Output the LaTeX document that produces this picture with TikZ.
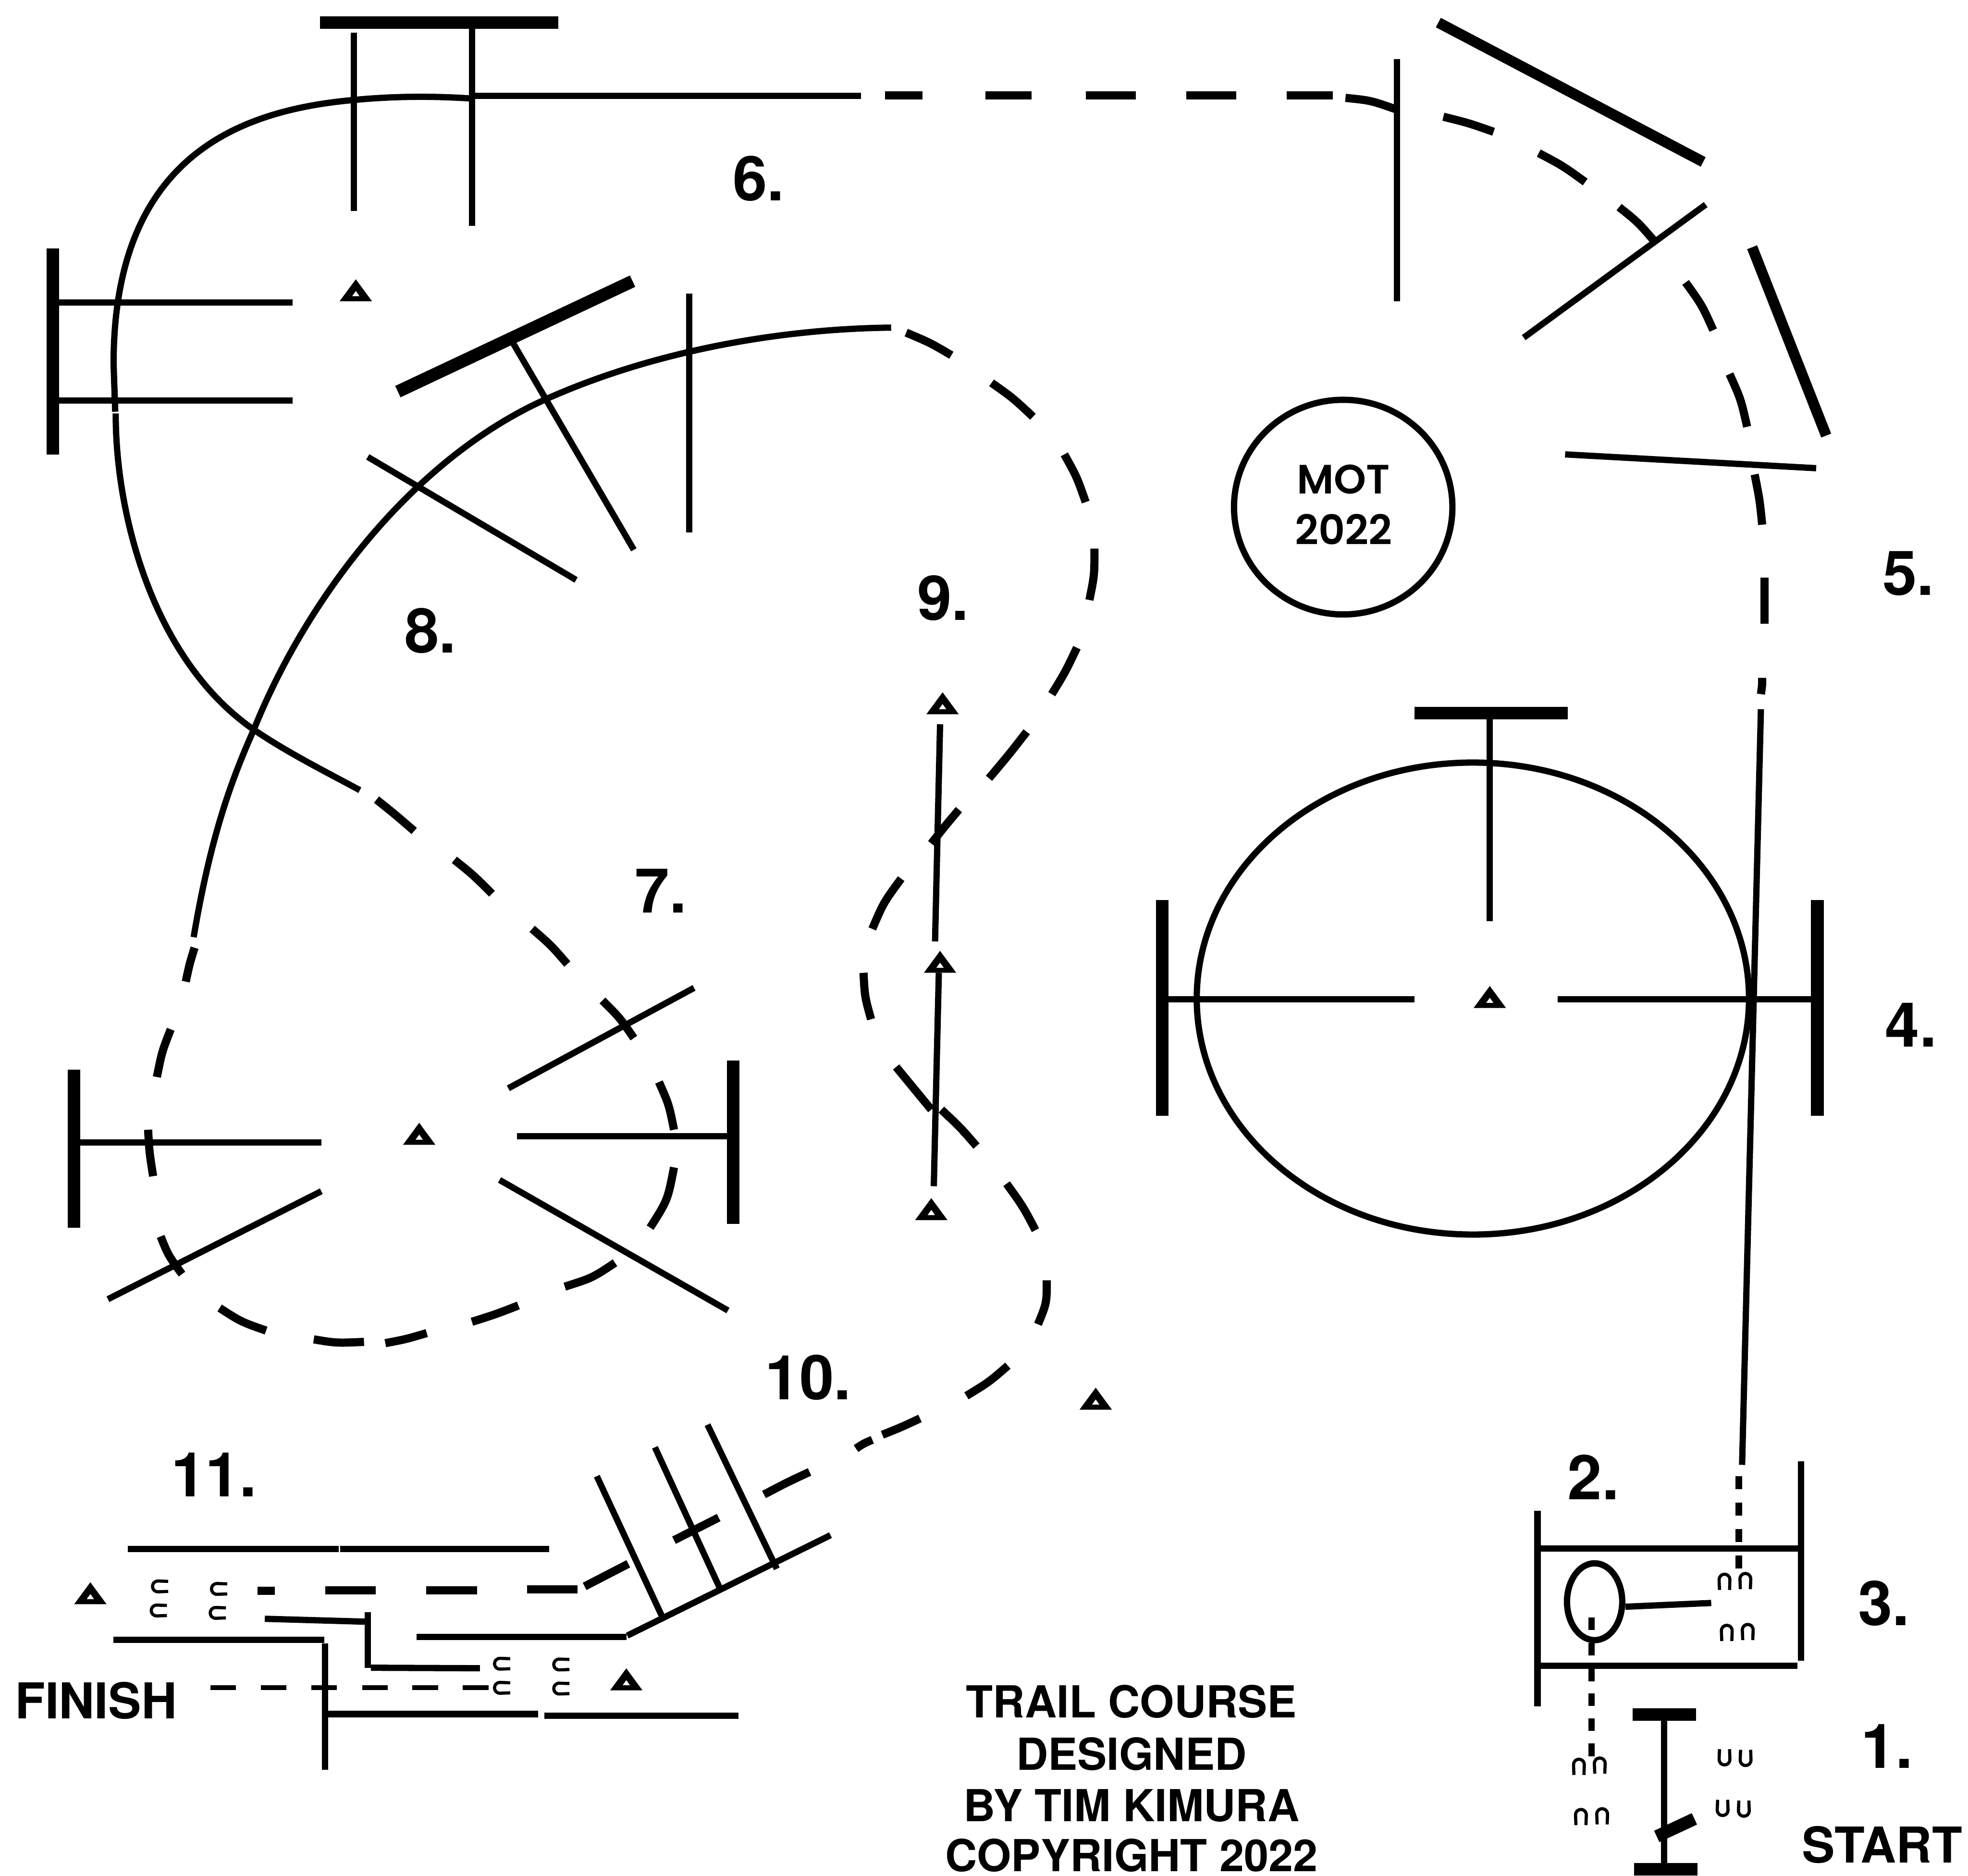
\documentclass[tikz,border=0pt]{standalone}
\usepackage{fontspec}
\setmainfont{TeX Gyre Heros}
\newfontfamily\motfont{Poppins SemiBold}
\usetikzlibrary{arrows.meta,positioning,calc}
\tikzset{
  rail/.style={line width=0.5mm, line cap=butt},
  heavy/.style={line width=1mm, line cap=butt},
  course/.style={line width=0.65mm, line cap=butt},
  courselabel/.style={font=\bfseries\fontsize{14}{14}\selectfont, anchor=base, inner sep=0pt},
  endlabel/.style={font=\bfseries\fontsize{11.2}{11.2}\selectfont, anchor=base, inner sep=0pt},
  textlabel/.style={font=\bfseries\fontsize{10}{10}\selectfont, anchor=base, inner sep=0pt},
  motlabel/.style={font=\motfont\fontsize{9.3}{9.3}\selectfont, anchor=base, inner sep=0pt},
  cone/.pic={\fill[even odd rule] (-12.9,0) -- (0,-17.5) -- (12.9,0) -- cycle (-3,-4) -- (0,-8.2) -- (3,-4) -- cycle;},
  shoe/.pic={\draw[line width=0.25mm] (-4,6) -- (-4.3,-2) .. controls (-4.3,-8) and (4.3,-8) .. (4.3,-2) -- (4,6);}
}
\begin{document}
\begin{tikzpicture}[x=0.1mm, y=-0.1mm]
  \useasboundingbox (0,0) rectangle (1568,1494.4);

  %% 6. top and left rails
  \draw[heavy] (255,18) -- (445,18);
  \draw[rail] (282,26) -- (282,168);
  \draw[rail] (376,22) -- (376,180);
  \draw[heavy] (42,198) -- (42,362);
  \draw[rail] (47,241) -- (233,241);
  \draw[rail] (47,319) -- (233,319);

  %% 8. angled rails
  \draw[heavy] (317,312) -- (504,224);
  \draw[rail] (408,272) -- (505,438);
  \draw[rail] (293,364) -- (459,462);
  \draw[rail] (549,234) -- (549,424);

  %% 5. fan on the right
  \draw[line width=0.85mm] (1146,18) -- (1357,129);
  \draw[line width=0.85mm] (1396,197) -- (1455,347);
  \draw[rail] (1113,47) -- (1113,240);
  \draw[rail] (1214,269) -- (1359,163);
  \draw[rail] (1247,362) -- (1447,373);

  %% mound
  \draw[rail] (1070.2,404) ellipse (87 and 85.5);
  \node[motlabel] (motname) at (1070.5,393.5) {MOT};
  \node[motlabel] (motyear) at (1070.5,434) {2022};

  %% 4. circle with rails
  \draw[rail] (1173.5,795.5) ellipse (220 and 188);
  \draw[heavy] (926,717) -- (926,889);
  \draw[heavy] (1448,717) -- (1448,889);
  \draw[heavy] (1127,568) -- (1249,568);
  \draw[rail] (1187,572) -- (1187,734);
  \draw[rail] (930,796) -- (1127,796);
  \draw[rail] (1241,796) -- (1445,796);

  %% 7. fan on the left
  \draw[heavy] (59,852) -- (59,978);
  \draw[rail] (64,910) -- (256,910);
  \draw[rail] (86,1035) -- (256,949);
  \draw[heavy] (584,845) -- (584,975);
  \draw[rail] (412,905) -- (580,905);
  \draw[rail] (398,940) -- (580,1044);
  \draw[rail] (405,867) -- (553,787);

  %% 9. slalom line
  \draw[rail] (749,577) -- (745,750);
  \draw[rail] (748,775) -- (744,945);

  %% 10. poles
  \draw[rail] (475.5,1176) -- (529,1291);
  \draw[rail] (521.8,1153) -- (574.8,1268);
  \draw[rail] (563.7,1135) -- (618.9,1249.8);
  \draw[rail] (499.8,1303) -- (661.7,1223);

  %% 11. chute
  \draw[rail] (102,1234) -- (270,1234);
  \draw[rail] (271,1234) -- (437.6,1234);
  \draw[rail] (332,1304) -- (499,1304);
  \draw[rail] (211,1289.6) -- (291,1291.9);
  \draw[rail] (293,1284.3) -- (293,1328.6);
  \draw[rail] (295.5,1328.6) -- (382.4,1329);
  \draw[rail] (90.4,1306.5) -- (258.5,1306.5);
  \draw[rail] (259,1309.3) -- (259,1410);
  \draw[rail] (261,1365.5) -- (428.7,1365.5);
  \draw[rail] (433.6,1367) -- (588.4,1367);

  %% 1. start gate
  \draw[heavy] (1300.8,1366) -- (1351.3,1366);
  \draw[rail] (1325.8,1371) -- (1325.8,1485);
  \draw[heavy] (1320,1463) -- (1350,1449);
  \draw[heavy] (1302,1489) -- (1352.5,1489);

  %% 2. and 3. box
  \draw[rail] (1225,1203.5) -- (1225,1359.5);
  \draw[rail] (1435,1164) -- (1435,1323);
  \draw[rail] (1227,1233.5) -- (1435,1233.5);
  \draw[rail] (1227,1327) -- (1432,1327);
  \draw[rail] (1270.5,1276) ellipse (22 and 30.6);
  \draw[rail] (1295,1280) -- (1363.4,1277);

  %% solid parts of the course
  \draw[rail] (686,76.5) -- (376,76.5);
  \draw[rail] (376,78.5) .. controls (345,76.5) and (315,76.5) .. (281.4,79.7)
    .. controls (190,88) and (90.5,125) .. (90.5,290) -- (91.8,328);
  \draw[rail] (92.2,329.4) .. controls (92,410) and (122,525) .. (201.2,580.6)
    .. controls (228,599) and (258,614) .. (286.7,629.5);
  \draw[rail] (154.3,746.6) .. controls (168,665) and (185,620) .. (202,581.8)
    .. controls (245,475) and (330,365) .. (435,318)
    .. controls (520,280) and (620,262) .. (710,261);
  \draw[rail] (1403,565) -- (1388,1167);

  %% dashed parts of the course
  \foreach \ax/\ay/\mx/\my/\bx/\by in {
    705/76/720/76/735/76, 785/76/803/76/822/76, 865/76/885/76/905/76,
    945/76/965/76/985/76, 1025/76/1043/76/1062/76, 1072/78/1092/80/1112/87,
    1150/93/1170/98/1190/105, 1226/122/1245/132/1263/145, 1290/165/1305/177/1318/192,
    1343/225/1356/243/1365/263, 1378/298/1387/318/1392/340, 1398/378/1402/398/1404/418,
    1406/460/1406/478/1406/497, 1404/540/1404/546/1403/553,
    300/637/315/649/330/662, 362/685/377/697/392/712, 424/740/439/753/452/768,
    480/797/494/811/505/827, 525/862/533/880/537/900, 537/930/532/956/518/978,
    490/1006/472/1018/450/1025, 413/1040/395/1047/376/1053, 340/1062/323/1067/307/1070,
    290/1069/268/1070/250/1067, 212/1060/192/1053/175/1042, 145/1015/134/1000/128/985,
    122/937/119/918/118/900, 125/858/129/838/136/820, 148/782/151/768/155/755,
    722/265/741/273/758/283, 790/305/807/317/823/332, 848/362/858/380/865/400,
    872/437/872/458/868/478, 858/516/849/535/838/553, 818/583/804/601/788/620,
    764/645/753/658/742/672, 718/700/704/719/695/740, 688/775/689/794/694/812,
    714/850/728/867/742/884, 750/884/765/898/778/913, 802/943/815/961/825/980,
    834/1020/834/1038/827/1055, 803/1088/788/1101/770/1112, 733/1130/718/1137/703/1143,
    695/1147/688/1150/682/1154, 645/1172.6/627/1181/608.7/1190.6, 572.6/1209/555/1218/537/1227,
    500.6/1245.8/483/1255/465.8/1263.8, 460/1266/440/1266/420/1266, 380/1267/360/1267/339.6/1267,
    299.5/1267/280/1267/259/1267, 219/1267.4/212/1267.4/205/1267.4}
    \draw[course] (\ax,\ay) .. controls (\mx,\my) .. (\bx,\by);

  %% short dashes in the box and in front of the finish
  \foreach \y in {1176,1197,1218,1239}
    \draw[rail] (1385.4,\y) -- (1385.4,\y+10.5);
  \foreach \y in {1288.6,1308.7,1329.5,1349,1369,1389}
    \draw[rail] (1268,\y) -- (1268,\y+10);
  \foreach \x in {167.6,207.8,248,288.5,328.6,368.8}
    \draw[line width=0.37mm] (\x,1344.4) -- (\x+20.4,1344.4);

  %% cones
  \foreach \x/\y in {283.5/240, 751/569, 749/775, 742/972, 334/912, 1187/803, 873/1123, 72/1278, 499/1346.6}
    \pic at (\x,\y) {cone};

  %% horseshoe marks
  \foreach \x/\y in {1374/1260.6, 1390.6/1260, 1375.8/1301.3, 1392.5/1300.6, 1258/1408, 1274.6/1407, 1259.6/1448, 1276.5/1447.4}
    \pic at (\x,\y) {shoe};
  \foreach \x/\y in {1374/1399.5, 1390.8/1400, 1372.5/1439.8, 1389.4/1440.4}
    \pic[rotate=180] at (\x,\y) {shoe};
  \foreach \x/\y in {128/1263.8, 175/1265.8, 127/1283, 174/1284.9, 400.5/1325.4, 447.7/1326, 400.5/1344.6, 447.7/1345.2}
    \pic[rotate=90] at (\x,\y) {shoe};

  %% obstacle numbers
  \node[courselabel] (numone) at (1503.5,1408.5) {1.};
  \node[courselabel] (numtwo) at (1269.5,1194.7) {2.};
  \node[courselabel] (numthree) at (1501,1295) {3.};
  \node[courselabel] (numfour) at (1522.5,834) {4.};
  \node[courselabel] (numfive) at (1520.5,474) {5.};
  \node[courselabel] (numsix) at (604.5,160) {6.};
  \node[courselabel] (numseven) at (526.5,727) {7.};
  \node[courselabel] (numeight) at (343,520) {8.};
  \node[courselabel] (numnine) at (751.5,494) {9.};
  \node[courselabel] (numten) at (644,1115) {10.};
  \node[courselabel] (numeleven) at (170.5,1192.2) {11.};

  %% start, finish, credit
  \node[endlabel] (startlabel) at (1499.5,1484) {START};
  \node[endlabel] (finishlabel) at (76.5,1369) {FINISH};
  \node[textlabel] (creditone) at (901.5,1368.5) {TRAIL COURSE};
  \node[textlabel] (credittwo) at (901.5,1410) {DESIGNED};
  \node[textlabel] (creditthree) at (901.5,1451) {BY TIM KIMURA};
  \node[textlabel] (creditfour) at (901.5,1491) {COPYRIGHT 2022};
\end{tikzpicture}
\end{document}
